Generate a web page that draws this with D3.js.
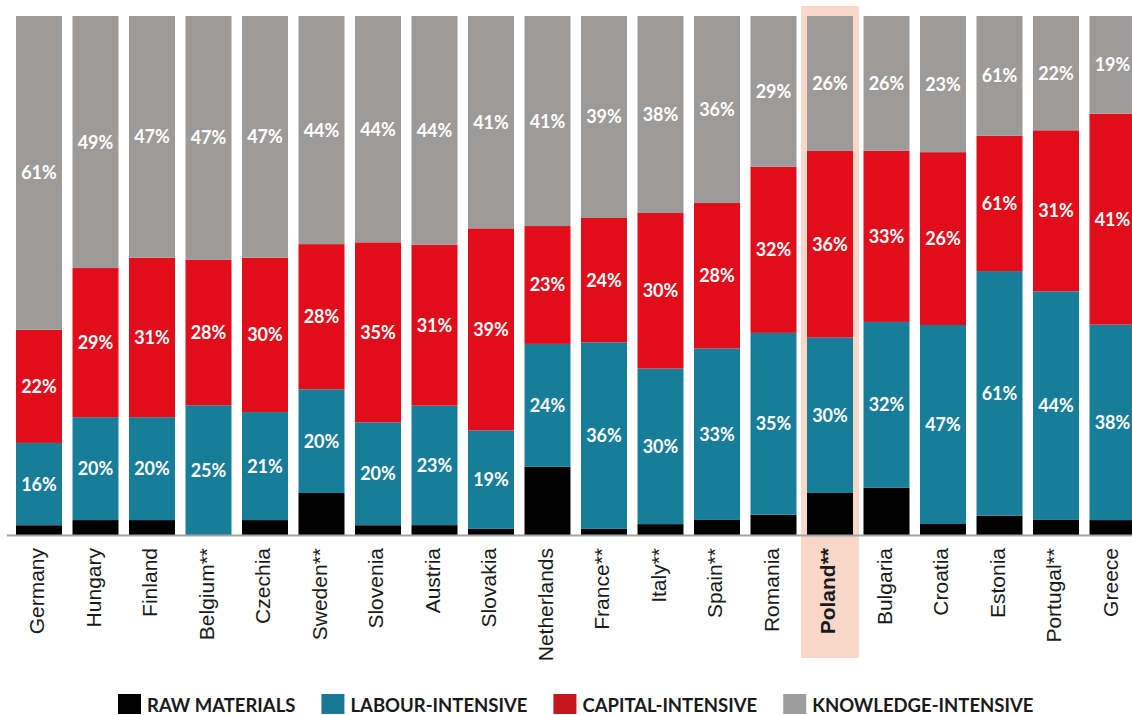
<!DOCTYPE html>
<html>
<head>
<meta charset="utf-8">
<script src="https://cdn.jsdelivr.net/npm/d3@7"></script>
<style>
  html, body { margin: 0; padding: 0; background: #fff; }
  svg { display: block; }
</style>
</head>
<body>
<svg id="chart" width="1132" height="715"></svg>
<script>
// Countries, in drawing order
const countries = ["Germany","Hungary","Finland","Belgium**","Czechia","Sweden**","Slovenia","Austria","Slovakia","Netherlands","France**","Italy**","Spain**","Romania","Poland**","Bulgaria","Croatia","Estonia","Portugal**","Greece"];
const highlighted = "Poland**";

// Export structure by product type (% of total), bottom to top
const rawMaterials = [1.9, 2.9, 2.9, 0, 2.9, 8.1, 1.9, 1.9, 1.2, 13.3, 1.2, 2.1, 2.9, 3.9, 8.1, 9.1, 2.1, 3.7, 2.9, 2.9];
const labour       = [16, 20, 20, 25, 21, 20, 20, 23, 19, 24, 36, 30, 33, 35, 30, 32, 38, 47, 44, 38];
const capital      = [22, 29, 31, 28, 30, 28, 35, 31, 39, 23, 24, 30, 28, 32, 36, 33, 33, 26, 31, 41];
const knowledge    = [61, 49, 47, 47, 47, 44, 44, 44, 41, 41, 39, 38, 36, 29, 26, 26, 26, 23, 22, 19];

// Printed percentage labels
const labourLabels    = [16, 20, 20, 25, 21, 20, 20, 23, 19, 24, 36, 30, 33, 35, 30, 32, 47, 61, 44, 38];
const capitalLabels   = [22, 29, 31, 28, 30, 28, 35, 31, 39, 23, 24, 30, 28, 32, 36, 33, 26, 61, 31, 41];
const knowledgeLabels = [61, 49, 47, 47, 47, 44, 44, 44, 41, 41, 39, 38, 36, 29, 26, 26, 23, 61, 22, 19];

const seriesKeys   = ["raw", "labour", "capital", "knowledge"];
const seriesNames  = ["RAW MATERIALS", "LABOUR-INTENSIVE", "CAPITAL-INTENSIVE", "KNOWLEDGE-INTENSIVE"];
const barColors    = ["#000000", "#187d98", "#e10d1a", "#9d9b99"];
const legendColors = ["#000000", "#187896", "#c4161c", "#9d9d9d"];

const rows = countries.map((c, i) => ({
  country: c,
  raw: rawMaterials[i],
  labour: labour[i],
  capital: capital[i],
  knowledge: knowledge[i]
}));
const labelSets = { labour: labourLabels, capital: capitalLabels, knowledge: knowledgeLabels };

const svg = d3.select("#chart");
const W = 1132, baseY = 535, topY = 16;

const x = d3.scaleBand()
  .domain(countries)
  .range([10.75, 1140.75])
  .paddingInner(0.186)
  .paddingOuter(0.093);

const y = d3.scaleLinear().domain([0, 1]).range([baseY, topY]);
const color = d3.scaleOrdinal().domain(seriesKeys).range(barColors);

const stacked = d3.stack().keys(seriesKeys).offset(d3.stackOffsetExpand)(rows);

// Highlight band behind the selected country
const hx = x(highlighted);
svg.append("rect")
  .attr("x", hx - 6)
  .attr("y", 6)
  .attr("width", x.bandwidth() + 12)
  .attr("height", 652)
  .attr("fill", "#f9d8ca");

// Stacked bars
const layers = svg.append("g").selectAll("g")
  .data(stacked)
  .join("g")
  .attr("fill", d => color(d.key));

layers.selectAll("rect")
  .data(d => d)
  .join("rect")
  .attr("x", d => x(d.data.country))
  .attr("y", d => y(d[1]))
  .attr("width", x.bandwidth())
  .attr("height", d => y(d[0]) - y(d[1]));

// Percentage labels on the labelled segments
const labelLayer = svg.append("g")
  .attr("font-family", "Lato, 'Open Sans', sans-serif")
  .attr("font-weight", 700)
  .attr("font-size", 18)
  .attr("fill", "#ffffff")
  .attr("text-anchor", "middle");

stacked.filter(s => labelSets[s.key]).forEach(s => {
  labelLayer.selectAll(null)
    .data(s)
    .join("text")
    .attr("x", d => x(d.data.country) + x.bandwidth() / 2)
    .attr("y", d => (y(d[0]) + y(d[1])) / 2)
    .attr("dy", "0.36em")
    .text((d, i) => labelSets[s.key][i] + "%");
});

// Baseline
svg.append("line")
  .attr("x1", 7).attr("x2", W)
  .attr("y1", baseY + 0.5).attr("y2", baseY + 0.5)
  .attr("stroke", "#a3a3a3")
  .attr("stroke-width", 2);

// Category axis with rotated country names
const xAxis = svg.append("g")
  .attr("transform", `translate(0,${baseY})`)
  .call(d3.axisBottom(x).tickSize(0).tickPadding(0));
xAxis.select(".domain").remove();
xAxis.selectAll(".tick text")
  .attr("font-family", "'Liberation Sans', Arial, sans-serif")
  .attr("font-size", 21)
  .attr("fill", "#1a1a1a")
  .attr("font-weight", d => d === highlighted ? 700 : 400)
  .attr("text-anchor", "end")
  .attr("transform", "rotate(-90)")
  .attr("x", -13)
  .attr("y", 0)
  .attr("dy", "0.25em");

// Legend
const legend = svg.append("g")
  .attr("font-family", "Lato, 'Open Sans', sans-serif")
  .attr("font-weight", 700)
  .attr("font-size", 18.5)
  .attr("fill", "#1a1a1a");

let lx = 118;
seriesNames.forEach((name, i) => {
  legend.append("rect")
    .attr("x", lx).attr("y", 694)
    .attr("width", 23).attr("height", 20)
    .attr("fill", legendColors[i]);
  const t = legend.append("text")
    .attr("x", lx + 29)
    .attr("y", 712)
    .text(name);
  lx += 29 + t.node().getComputedTextLength() + 26;
});
</script>
</body>
</html>
